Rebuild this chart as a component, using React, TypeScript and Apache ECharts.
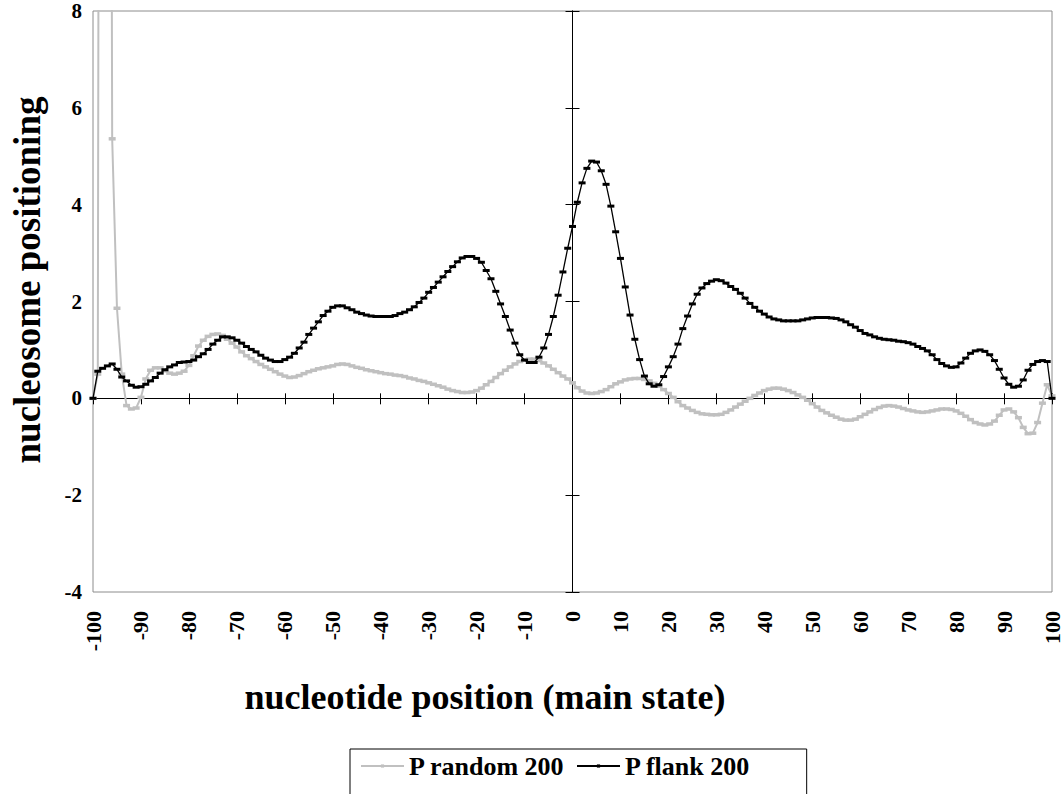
import { useEffect, useRef } from 'react';
import * as echarts from 'echarts';

// nucleotide positions (main state), -100 .. 100
const POS_FROM = -100;
const POS_TO = 100;
const positions: number[] = [];
for (let p = POS_FROM; p <= POS_TO; p++) positions.push(p);

const xTicks = [-100, -90, -80, -70, -60, -50, -40, -30, -20, -10, 0, 10, 20, 30, 40, 50, 60, 70, 80, 90, 100];
const yTicks = [-4, -2, 0, 2, 4, 6, 8];

// P random 200 (grey)
const pRandom = [
  0, 0.5, 60, 45, 5.36, 1.86, 0.5, -0.15, -0.22, -0.2,
  0.02, 0.4, 0.58, 0.63, 0.63, 0.57, 0.52, 0.5, 0.52, 0.56,
  0.68, 0.88, 1.08, 1.2, 1.28, 1.32, 1.33, 1.3, 1.22, 1.14,
  1.06, 0.96, 0.88, 0.82, 0.76, 0.7, 0.65, 0.6, 0.55, 0.5,
  0.46, 0.43, 0.44, 0.47, 0.51, 0.55, 0.58, 0.61, 0.63, 0.65,
  0.67, 0.7, 0.71, 0.7, 0.67, 0.64, 0.62, 0.59, 0.57, 0.55,
  0.53, 0.51, 0.5, 0.48, 0.47, 0.45, 0.42, 0.4, 0.37, 0.35,
  0.32, 0.29, 0.26, 0.23, 0.19, 0.16, 0.14, 0.12, 0.12, 0.13,
  0.16, 0.21, 0.28, 0.35, 0.43, 0.51, 0.58, 0.65, 0.71, 0.76,
  0.79, 0.81, 0.81, 0.78, 0.73, 0.67, 0.6, 0.53, 0.46, 0.4,
  0.32, 0.22, 0.15, 0.11, 0.1, 0.11, 0.14, 0.18, 0.24, 0.3,
  0.34, 0.38, 0.4, 0.41, 0.41, 0.39, 0.36, 0.31, 0.25, 0.18,
  0.1, 0.02, -0.07, -0.15, -0.2, -0.25, -0.29, -0.32, -0.33, -0.34,
  -0.34, -0.33, -0.29, -0.24, -0.18, -0.12, -0.06, 0.0, 0.06, 0.11,
  0.16, 0.19, 0.21, 0.21, 0.19, 0.16, 0.12, 0.07, 0.02, -0.04,
  -0.11, -0.18, -0.25, -0.3, -0.35, -0.39, -0.43, -0.45, -0.45, -0.43,
  -0.38, -0.33, -0.28, -0.23, -0.19, -0.16, -0.15, -0.16, -0.18, -0.21,
  -0.24, -0.26, -0.28, -0.29, -0.28, -0.26, -0.24, -0.22, -0.22, -0.23,
  -0.26, -0.31, -0.37, -0.44, -0.5, -0.53, -0.55, -0.53, -0.47, -0.35,
  -0.24, -0.22, -0.28, -0.4, -0.6, -0.73, -0.72, -0.5, -0.1, 0.28,
  0.05,
];

// P flank 200 (black)
const pFlank = [
  0, 0.56, 0.62, 0.67, 0.71, 0.6, 0.44, 0.36, 0.27, 0.23,
  0.24, 0.29, 0.36, 0.43, 0.52, 0.59, 0.65, 0.69, 0.74, 0.75,
  0.76, 0.79, 0.86, 0.92, 1.01, 1.12, 1.2, 1.27, 1.27, 1.25,
  1.2, 1.14, 1.07, 1.01, 0.96, 0.89, 0.83, 0.79, 0.76, 0.76,
  0.8, 0.85, 0.93, 1.04, 1.16, 1.32, 1.45, 1.58, 1.71, 1.8,
  1.88, 1.91, 1.91, 1.87, 1.83, 1.78, 1.75, 1.72, 1.7, 1.69,
  1.69, 1.69, 1.69, 1.71, 1.75, 1.78, 1.83, 1.89, 1.98, 2.07,
  2.19, 2.29, 2.4, 2.51, 2.62, 2.72, 2.82, 2.9, 2.93, 2.93,
  2.89, 2.81, 2.64, 2.47, 2.21, 1.95, 1.69, 1.41, 1.14, 0.9,
  0.79, 0.74, 0.74, 0.85, 1.04, 1.32, 1.69, 2.13, 2.61, 3.1,
  3.55, 4.05, 4.45, 4.75, 4.9, 4.88, 4.7, 4.42, 3.97, 3.44,
  2.89, 2.3, 1.72, 1.22, 0.8, 0.46, 0.3, 0.25, 0.28, 0.45,
  0.65, 0.86, 1.12, 1.44, 1.7, 1.95, 2.15, 2.28, 2.37, 2.42,
  2.45, 2.43, 2.38, 2.31, 2.25, 2.17, 2.07, 1.96, 1.88, 1.8,
  1.74, 1.68, 1.64, 1.62, 1.6, 1.6, 1.6, 1.6, 1.62, 1.64,
  1.66, 1.67, 1.67, 1.67, 1.66, 1.65, 1.62, 1.58, 1.52, 1.47,
  1.4, 1.34, 1.31, 1.27, 1.24, 1.22, 1.21, 1.2, 1.18, 1.17,
  1.15, 1.12, 1.07, 1.03, 0.98, 0.9, 0.8, 0.72, 0.67, 0.64,
  0.65, 0.73, 0.83, 0.93, 0.98, 1.0, 0.97, 0.9, 0.78, 0.6,
  0.42, 0.29, 0.23, 0.25, 0.38, 0.58, 0.7, 0.76, 0.78, 0.76,
  0,
];

const seriesNames = ['P random 200', 'P flank 200'];
const xTitle = 'nucleotide position (main state)';
const yTitle = 'nucleosome positioning';

const FONT = "'Liberation Serif', 'Times New Roman', serif";

export default function App() {
  const ref = useRef<HTMLDivElement>(null);

  useEffect(() => {
    document.body.style.margin = '0';
    const chart = echarts.init(ref.current!, null, { renderer: 'svg' });

    const xMin = xTicks[0];
    const xMax = xTicks[xTicks.length - 1];
    const yMin = yTicks[0];
    const yMax = yTicks[yTicks.length - 1];

    const baseX = {
      type: 'value' as const,
      min: xMin,
      max: xMax,
      interval: 10,
      splitLine: { show: false },
    };
    const baseY = {
      type: 'value' as const,
      min: yMin,
      max: yMax,
      interval: 2,
      splitLine: { show: false },
    };

    const option: any = {
      animation: false,
      backgroundColor: '#ffffff',
      grid: {
        left: 93,
        right: 10,
        top: 11,
        bottom: 202,
        show: true,
        borderColor: '#8c8c8c',
        borderWidth: 1,
        backgroundColor: 'transparent',
      },
      xAxis: [
        {
          ...baseX,
          position: 'bottom',
          axisLine: { show: false, onZero: false },
          axisTick: { show: false },
          axisLabel: {
            rotate: 90,
            margin: 19,
            color: '#000',
            fontFamily: FONT,
            fontWeight: 'bold',
            fontSize: 22,
          },
        },
        {
          ...baseX,
          axisLine: { show: true, onZero: true, onZeroAxisIndex: 0, lineStyle: { color: '#000', width: 1 } },
          axisTick: { show: true, inside: true, length: 6, lineStyle: { color: '#000', width: 1 } },
          axisLabel: { show: false },
        },
        {
          ...baseX,
          axisLine: { show: true, onZero: true, onZeroAxisIndex: 0, lineStyle: { color: '#000', width: 1 } },
          axisTick: { show: true, inside: false, length: 5, lineStyle: { color: '#000', width: 1 } },
          axisLabel: { show: false },
        },
      ],
      yAxis: [
        {
          ...baseY,
          position: 'left',
          axisLine: { show: false, onZero: false },
          axisTick: { show: false },
          axisLabel: {
            margin: 11,
            color: '#000',
            fontFamily: FONT,
            fontWeight: 'bold',
            fontSize: 21,
          },
        },
        {
          ...baseY,
          axisLine: { show: true, onZero: true, onZeroAxisIndex: 0, lineStyle: { color: '#000', width: 1 } },
          axisTick: { show: true, inside: true, length: 7, lineStyle: { color: '#000', width: 1 } },
          axisLabel: { show: false },
        },
        {
          ...baseY,
          axisLine: { show: true, onZero: true, onZeroAxisIndex: 0, lineStyle: { color: '#000', width: 1 } },
          axisTick: { show: true, inside: false, length: 7, lineStyle: { color: '#000', width: 1 } },
          axisLabel: { show: false },
        },
      ],
      legend: {
        data: seriesNames,
        left: 350,
        top: 749,
        orient: 'horizontal',
        itemWidth: 43,
        itemHeight: 4,
        itemGap: 11,
        padding: [4, 56, 40, 10],
        borderColor: '#000',
        borderWidth: 1,
        backgroundColor: '#fff',
        textStyle: {
          fontFamily: FONT,
          fontWeight: 'bold',
          fontSize: 26,
          color: '#000',
        },
      },
      graphic: [
        {
          type: 'text',
          x: 485,
          y: 697,
          style: {
            text: xTitle,
            fontFamily: FONT,
            fontWeight: 'bold',
            fontSize: 36,
            fill: '#000',
            textAlign: 'center',
            textVerticalAlign: 'middle',
          },
        },
        {
          type: 'text',
          x: 27,
          y: 280,
          rotation: Math.PI / 2,
          style: {
            text: yTitle,
            fontFamily: FONT,
            fontWeight: 'bold',
            fontSize: 37,
            fill: '#000',
            textAlign: 'center',
            textVerticalAlign: 'middle',
          },
        },
      ],
      series: [
        {
          name: seriesNames[0],
          type: 'line',
          xAxisIndex: 0,
          yAxisIndex: 0,
          data: positions.map((p, i) => [p, pRandom[i]]),
          clip: true,
          symbol: 'rect',
          symbolSize: [7, 3.5],
          itemStyle: { color: '#c0c0c0' },
          lineStyle: { color: '#c0c0c0', width: 2 },
          z: 2,
        },
        {
          name: seriesNames[1],
          type: 'line',
          xAxisIndex: 0,
          yAxisIndex: 0,
          data: positions.map((p, i) => [p, pFlank[i]]),
          clip: true,
          symbol: 'rect',
          symbolSize: [7, 3],
          itemStyle: { color: '#000000' },
          lineStyle: { color: '#000000', width: 1.3 },
          z: 3,
        },
      ],
    };

    chart.setOption(option);
    return () => chart.dispose();
  }, []);

  return (
    <div
      ref={ref}
      style={{ position: 'absolute', left: 0, top: 0, width: 1063, height: 794 }}
    />
  );
}
